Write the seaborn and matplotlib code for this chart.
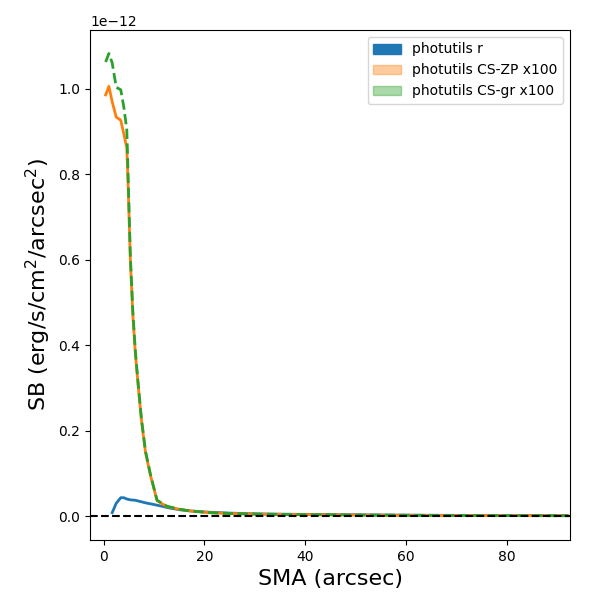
# surface brightness profiles: photutils r vs CS-ZP / CS-gr (scaled x100)

import numpy as np
import pandas as pd
import seaborn as sns
import matplotlib.pyplot as plt
from matplotlib.patches import Patch

# semi-major axis (arcsec)
sma = [0.4, 1.05, 1.7, 2.5, 3.4, 4.0, 4.6, 4.9, 5.3, 5.8, 6.3, 6.9, 7.5,
       8.3, 9.3, 10.6, 12.6, 15.0, 17.2, 21.0, 25.0, 31.0, 39.0, 50.0,
       62.0, 75.0, 92.0]

# surface brightness in units of 1e-12 erg/s/cm2/arcsec2
sb_cs_zp = [0.986, 1.006, 0.970, 0.934, 0.927, 0.895, 0.862, 0.760, 0.600,
            0.470, 0.380, 0.300, 0.225, 0.150, 0.095, 0.036, 0.022, 0.016,
            0.012, 0.008, 0.006, 0.0045, 0.0035, 0.0025, 0.0018, 0.0013, 0.0009]
sb_cs_gr = [1.063, 1.083, 1.061, 1.004, 0.998, 0.958, 0.904, 0.780, 0.610,
            0.478, 0.385, 0.303, 0.228, 0.152, 0.097, 0.037, 0.023, 0.016,
            0.012, 0.008, 0.006, 0.0045, 0.0035, 0.0025, 0.0018, 0.0013, 0.0009]
sma_r = [1.7, 2.5, 3.4, 4.0, 4.6, 5.3, 6.3, 7.3, 8.3, 10.0, 11.6, 13.0, 15.0,
         17.2, 21.0, 25.0, 31.0, 39.0, 50.0, 62.0, 75.0, 92.0]
sb_r = [0.008, 0.030, 0.043, 0.043, 0.040, 0.038, 0.037, 0.034, 0.031, 0.027,
        0.023, 0.019, 0.015, 0.012, 0.009, 0.007, 0.005, 0.004, 0.003, 0.002,
        0.0015, 0.001]

df_r = pd.DataFrame({'sma': sma_r, 'sb': np.array(sb_r) * 1e-12})
df_cs = pd.DataFrame({'sma': sma,
                      'zp': np.array(sb_cs_zp) * 1e-12,
                      'gr': np.array(sb_cs_gr) * 1e-12})

fig, ax = plt.subplots(figsize=(6, 6), dpi=100)
fig.subplots_adjust(left=0.15, right=0.95, top=0.95, bottom=0.1)

sns.lineplot(x='sma', y='sb', data=df_r, ax=ax, color='C0', lw=2)
sns.lineplot(x='sma', y='zp', data=df_cs, ax=ax, color='C1', lw=2)
sns.lineplot(x='sma', y='gr', data=df_cs, ax=ax, color='C2', lw=2, ls='--')
ax.axhline(0, color='k', ls='--')

ax.set_xlim(-2.7, 92.5)
ax.set_ylim(-0.056e-12, 1.138e-12)
ax.set_xlabel('SMA (arcsec)', fontsize=16)
ax.set_ylabel(r'SB (erg/s/cm$^2$/arcsec$^2$)', fontsize=16)

handles = [Patch(color='C0', label='photutils r'),
           Patch(color='C1', alpha=0.4, label='photutils CS-ZP x100'),
           Patch(color='C2', alpha=0.4, label='photutils CS-gr x100')]
ax.legend(handles=handles, loc='upper right')

plt.savefig('out.png')
